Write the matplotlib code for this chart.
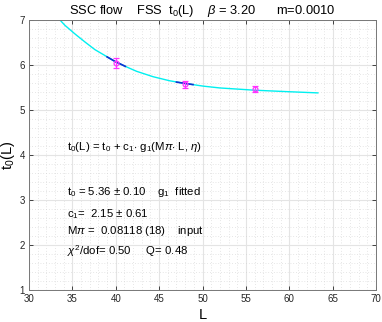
import matplotlib
matplotlib.use("Agg")
import matplotlib.pyplot as plt
from matplotlib.ticker import MultipleLocator

plt.rcParams['font.family'] = ['Liberation Sans', 'DejaVu Sans']
plt.rcParams['mathtext.fontset'] = 'custom'
plt.rcParams['mathtext.rm'] = 'Liberation Sans'
plt.rcParams['mathtext.it'] = 'Liberation Sans:italic'

# data points
L_data = [40, 48, 56]
t0_data = [6.04, 5.57, 5.47]
t0_err = [0.11, 0.07, 0.07]

# fit curve
L_fit = [33.57, 34.15, 35.30, 36.46, 37.61, 38.76, 39.91, 41.1, 42.4, 44.3, 46.2,
         48.0, 50.1, 52.0, 54.0, 56.0, 59.5, 63.3]
t0_fit = [7.00, 6.88, 6.69, 6.51, 6.34, 6.21, 6.08, 5.97, 5.86, 5.74, 5.65,
          5.59, 5.53, 5.49, 5.465, 5.44, 5.41, 5.38]

# highlighted segments around the fitted points
seg1_L = [39.0, 39.91, 41.1]
seg1_t = [6.18, 6.08, 5.97]
seg2_L = [47.0, 48.0, 48.9]
seg2_t = [5.62, 5.59, 5.565]

fig = plt.figure(figsize=(3.82, 3.22), dpi=100)
ax = fig.add_axes([29/382, 1 - 290/322, (376 - 29)/382, (290 - 20)/322])

ax.plot(L_fit, t0_fit, color='#00f0f0', lw=1.0, zorder=2)
ax.plot(seg1_L, seg1_t, color='#1030d0', lw=1.2, zorder=3)
ax.plot(seg2_L, seg2_t, color='#1030d0', lw=1.2, zorder=3)
ax.errorbar(L_data, t0_data, yerr=t0_err, fmt='o', color='#ff33ff', ms=3.5,
            mfc='none', mew=0.9, elinewidth=0.9, capsize=2.5, capthick=0.9, zorder=4)

ax.set_xlim(30, 70)
ax.set_ylim(1, 7)
ax.xaxis.set_major_locator(MultipleLocator(5))
ax.xaxis.set_minor_locator(MultipleLocator(1))
ax.yaxis.set_major_locator(MultipleLocator(1))
ax.yaxis.set_minor_locator(MultipleLocator(0.2))
ax.grid(which='major', color='#e4e4e4', lw=0.8, ls='-')
ax.grid(which='minor', color='#cfcfcf', lw=0.5, ls=(0, (1, 3)))
ax.set_axisbelow(True)
ax.tick_params(which='both', direction='in', top=True, right=True, labelsize=7,
               colors='#262626', width=0.6, length=3, pad=3)
ax.tick_params(which='minor', length=0)
for s in ax.spines.values():
    s.set_color('#777777')
    s.set_linewidth(0.7)

ax.set_xlabel('L', fontsize=10.5, labelpad=3)
ax.set_ylabel(r'$\mathrm{t_0(L)}$', fontsize=10.5, labelpad=2)
ax.set_title(r'SSC flow    FSS  $\mathrm{t_0}$(L)    $\beta$ = 3.20      m=0.0010',
             fontsize=9.3, pad=4)

fs = 8.2
x0 = 34.4
ax.text(x0, 4.18, r'$\mathrm{t_0}$(L) = $\mathrm{t_0}$ + $\mathrm{c_1}$$\cdot$ $\mathrm{g_1}$(M$\pi$$\cdot$ L, $\eta$)', fontsize=fs, va='center')
ax.text(x0, 3.18, r'$\mathrm{t_0}$ = 5.36 $\pm$ 0.10    $\mathrm{g_1}$  fitted', fontsize=fs, va='center')
ax.text(x0, 2.69, r'$\mathrm{c_1}$=  2.15 $\pm$ 0.61', fontsize=fs, va='center')
ax.text(x0, 2.31, r'M$\pi$ =  0.08118 (18)    input', fontsize=fs, va='center')
ax.text(x0, 1.87, r'$\chi^2$/dof= 0.50     Q= 0.48', fontsize=fs, va='center')

fig.savefig('out.png', dpi=100)
